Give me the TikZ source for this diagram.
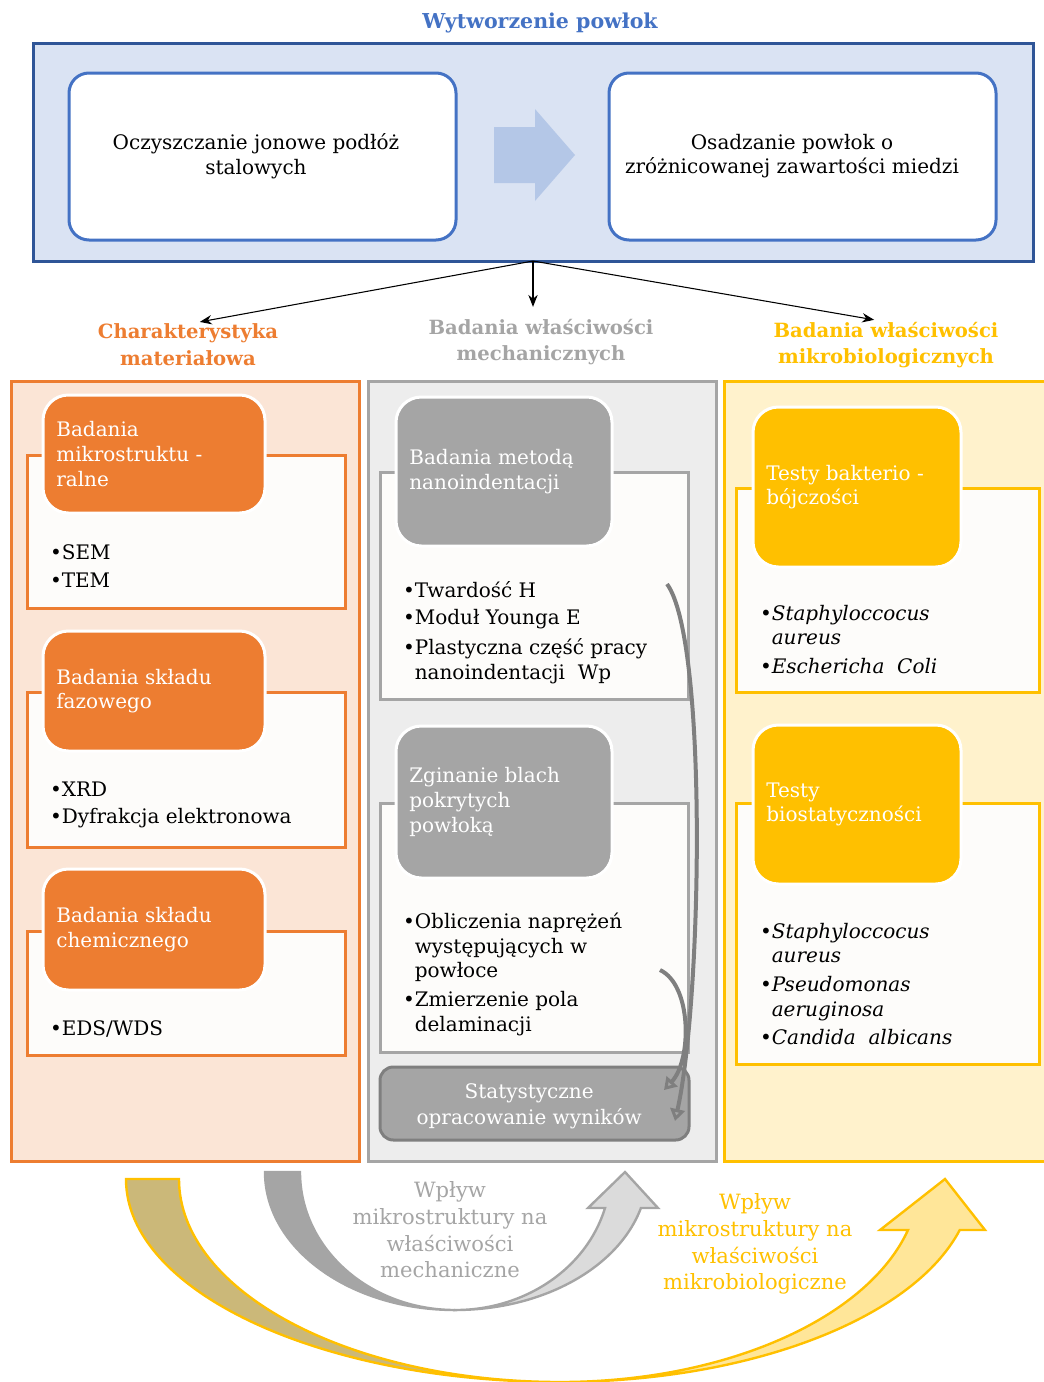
\documentclass[tikz,border=0pt]{standalone}
\usepackage{fontspec}
\setmainfont{DejaVu Serif}
\usetikzlibrary{positioning, fit, arrows.meta, calc}
\definecolor{navy}{HTML}{2F5597}
\definecolor{bluefr}{HTML}{4472C4}
\definecolor{bluebg}{HTML}{DAE3F3}
\definecolor{bluear}{HTML}{B4C7E7}
\definecolor{orng}{HTML}{ED7D31}
\definecolor{orngbg}{HTML}{FBE5D6}
\definecolor{gry}{HTML}{A5A5A5}
\definecolor{grybg}{HTML}{EDEDED}
\definecolor{grydk}{HTML}{7F7F7F}
\definecolor{grylt}{HTML}{DBDBDB}
\definecolor{gold}{HTML}{FFC000}
\definecolor{goldbg}{HTML}{FFF2CC}
\definecolor{goldlt}{HTML}{FFE699}
\definecolor{khaki}{HTML}{CBB879}
\definecolor{paper}{HTML}{FDFCFA}
\newcommand{\blt}{\textbullet}
\newcommand{\bltsp}{\phantom{\textbullet}}
\newcommand{\fs}{\fontsize{15}{18.5}\selectfont}

\begin{document}
\begin{tikzpicture}[x=0.75pt, y=-0.75pt,
                  every node/.style={inner sep=0pt, outer sep=0pt},
                  txt/.style={font=\fs, align=left, anchor=north west},
                  hd/.style={font=\bfseries\fontsize{14.7}{20}\selectfont, align=center},
                  frm/.style={draw, line width=2.25pt},
                  lst/.style={draw, fill=paper, line width=2.25pt},
                  hdr/.style={draw=white, line width=2.25pt, rounded corners=19pt},
                  htx/.style={font=\fs, text=white, align=left, anchor=west},
                  wbox/.style={draw=bluefr, fill=white, line width=2.25pt, rounded corners=15pt},
                  wtx/.style={font=\fs, align=center},
                  arr/.style={-{Stealth[length=9pt, width=7pt]}, line width=0.8pt, shorten >=9pt},
                  bnd/.style={draw=grydk, line width=3pt, -{Triangle[open, length=9pt, width=11pt]}},
                  eff/.style={font=\fontsize{15.8}{20}\selectfont, align=center}]

    \useasboundingbox (0,0) rectangle (1044,1382); % whole figure

    % top part
    \node[hd, font=\bfseries\fontsize{15.4}{20}\selectfont, text=bluefr] (ttl) at (540,23) {Wytworzenie powłok};
    \node[frm, draw=navy, fill=bluebg, fit={(33,43) (1033,261)}] (frame) {};
    \node[wbox, fit={(69,73) (456,240)}] (clean) {};
    \node[wtx] (cleanT) at (256,156) {Oczyszczanie jonowe podłóż\\stalowych};
    \node[wbox, fit={(609,73) (996,240)}] (depo) {};
    \node[wtx] (depoT) at (792,156) {Osadzanie powłok o\\zróżnicowanej zawartości miedzi};
    \fill[bluear] (494,127) -- (535,127) -- (535,109) -- (575,155) -- (535,201) -- (535,183) -- (494,183) -- cycle;

    % column titles
    \node[hd, text=orng] (titA) at (188,345) {Charakterystyka\\materiałowa};
    \node[hd, text=gry]  (titB) at (541,342) {Badania właściwości\\mechanicznych};
    \node[hd, text=gold] (titC) at (886,345) {Badania właściwości\\mikrobiologicznych};
    \draw[arr] (frame.south) -- (titA.north);
    \draw[arr] (frame.south) -- (frame.south |- titB.north);
    \draw[arr] (frame.south) -- (titC.north);

    % columns
    \node[frm, draw=orng, fill=orngbg, fit={(11,381) (359,1161)}] (colA) {};
    \node[frm, draw=gry, fill=grybg, fit={(368,381) (716,1161)}] (colB) {};
    \node[frm, draw=gold, fill=goldbg, fit={(724,381) (1052,1161)}] (colC) {};

    % material characterisation
    \node[lst, draw=orng, fit={(27,455) (345,608)}] (lA1) {};
    \node[hdr, fill=orng, fit={(43,395) (265,513)}] (hA1) {};
    \node[htx] (tA1) at ([xshift=10pt]hA1.west) {Badania\\mikrostruktu -\\ralne};
    \node[txt] (bA1) at (50,545) {\blt SEM\\[2pt]\blt TEM};
    \node[lst, draw=orng, fit={(27,692) (345,847)}] (lA2) {};
    \node[hdr, fill=orng, fit={(43,631) (265,751)}] (hA2) {};
    \node[htx] (tA2) at ([xshift=10pt]hA2.west) {Badania składu\\fazowego};
    \node[txt] (bA2) at (50,782) {\blt XRD\\[2pt]\blt Dyfrakcja elektronowa};
    \node[lst, draw=orng, fit={(27,931) (345,1055)}] (lA3) {};
    \node[hdr, fill=orng, fit={(43,869) (265,990)}] (hA3) {};
    \node[htx] (tA3) at ([xshift=10pt]hA3.west) {Badania składu\\chemicznego};
    \node[txt] (bA3) at (50,1021) {\blt EDS/WDS};

    % mechanical properties
    \node[lst, draw=gry, fit={(380,472) (688,699)}] (lB1) {};
    \node[hdr, fill=gry, fit={(396,397) (612,546)}] (hB1) {};
    \node[htx] (tB1) at ([xshift=10pt]hB1.west) {Badania metodą\\nanoindentacji};
    \node[txt] (bB1) at (403,581) {\blt Twardość H\\[2pt]\blt Moduł Younga E\\[4pt]\blt Plastyczna część pracy\\\bltsp nanoindentacji\ \ Wp};
    \node[lst, draw=gry, fit={(380,803) (688,1052)}] (lB2) {};
    \node[hdr, fill=gry, fit={(396,726) (612,878)}] (hB2) {};
    \node[htx] (tB2) at ([xshift=10pt]hB2.west) {Zginanie blach\\pokrytych\\powłoką};
    \node[txt] (bB2) at (403,913) {\blt Obliczenia naprężeń\\\bltsp występujących w\\\bltsp powłoce\\[3pt]\blt Zmierzenie pola\\\bltsp delaminacji};
    \node[draw=grydk, fill=gry, line width=2.25pt, rounded corners=10pt, fit={(380,1067) (689,1140)}] (stat) {};
    \node[font=\fontsize{15}{20}\selectfont, text=white, align=center] (statT) at ([xshift=-4pt, yshift=-2pt]stat.center) {Statystyczne\\opracowanie wyników};
    \coordinate (a1s) at (667,584);
    \coordinate (a1e) at (675,1121);
    \coordinate (a2s) at (660,970);
    \coordinate (a2e) at (664,1090);
    \draw[bnd] (a1s) .. controls (708,640) and (702,1000) .. (a1e);
    \draw[bnd] (a2s) .. controls (692,985) and (692,1060) .. (a2e);

    % microbiological properties
    \node[lst, draw=gold, fit={(736,488) (1039,692)}] (lC1) {};
    \node[hdr, fill=gold, fit={(753,407) (961,567)}] (hC1) {};
    \node[htx] (tC1) at ([xshift=10pt]hC1.west) {Testy bakterio -\\bójczości};
    \node[txt] (bC1) at (760,605) {\blt\textit{Staphyloccocus}\\\bltsp\textit{aureus}\\[3pt]\blt\textit{Eschericha\ \ Coli}};
    \node[lst, draw=gold, fit={(736,803) (1039,1064)}] (lC2) {};
    \node[hdr, fill=gold, fit={(753,725) (961,884)}] (hC2) {};
    \node[htx] (tC2) at ([xshift=10pt]hC2.west) {Testy\\biostatyczności};
    \node[txt] (bC2) at (760,923) {\blt\textit{Staphyloccocus}\\\bltsp\textit{aureus}\\[3pt]\blt\textit{Pseudomonas}\\\bltsp\textit{aeruginosa}\\[3pt]\blt\textit{Candida\ \ albicans}};

    % bottom arrows
    \filldraw[fill=khaki, draw=gold, line width=1.8pt] (126,1179) arc[start angle=180, end angle=90, x radius=434, y radius=203]
        arc[start angle=90, end angle=180, x radius=381, y radius=203] -- cycle;
    \filldraw[fill=goldlt, draw=gold, line width=1.8pt] (560,1382) arc[start angle=90, end angle=14.55, x radius=413, y radius=203]
        -- (985,1230) -- (945,1179) -- (880,1230) -- (908,1230)
        arc[start angle=14.55, end angle=90, x radius=359.5, y radius=203] -- cycle;
    \filldraw[fill=gry, draw=gry, line width=1.8pt] (265,1172) arc[start angle=180, end angle=90, x radius=190, y radius=138]
        arc[start angle=90, end angle=180, x radius=155, y radius=138] -- cycle;
    \filldraw[fill=grylt, draw=gry, line width=1.8pt] (455,1310) arc[start angle=90, end angle=15.1, x radius=192.6, y radius=138]
        -- (658,1208) -- (625,1172) -- (588,1208) -- (605,1208)
        arc[start angle=15.1, end angle=90, x radius=155.4, y radius=138] -- cycle;
    \node[eff, text=gry] (effB) at (450,1230) {Wpływ\\mikrostruktury na\\właściwości\\mechaniczne};
    \node[eff, text=gold] (effC) at (755,1244) {Wpływ\\mikrostruktury na\\właściwości\\mikrobiologiczne};

\end{tikzpicture}
\end{document}
